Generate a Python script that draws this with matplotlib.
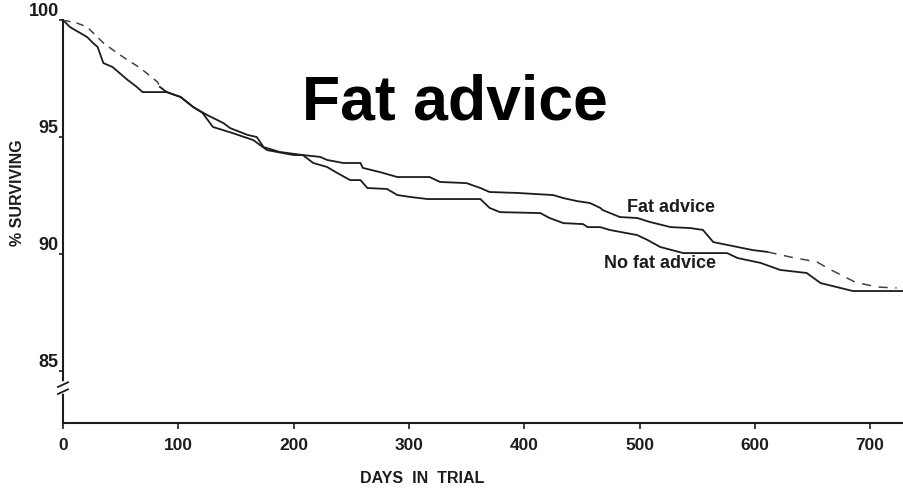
import numpy as np
import matplotlib
matplotlib.use("Agg")
import matplotlib.pyplot as plt

plt.rcParams['font.family'] = ['Liberation Sans', 'DejaVu Sans']

# survival curves (days, % surviving)
fat_days = [0, 8, 12, 21, 35, 47, 56, 67, 82, 84, 90, 102, 113, 125, 139, 145,
            160, 168, 174, 188, 208, 223, 229, 243, 258, 260, 275, 290, 318, 327,
            350, 362, 370, 394, 425, 434, 446, 457, 466, 468, 483, 498, 509, 527,
            544, 555, 564, 585, 598, 611, 631, 654, 663, 687, 706, 723]
fat_pct = [100.0, 99.91, 99.87, 99.70, 99.02, 98.59, 98.29, 97.95, 97.35, 97.14,
           96.92, 96.71, 96.28, 95.94, 95.60, 95.38, 95.09, 95.00, 94.57, 94.36,
           94.23, 94.15, 94.02, 93.89, 93.89, 93.68, 93.50, 93.29, 93.29, 93.08,
           93.03, 92.82, 92.65, 92.61, 92.52, 92.39, 92.26, 92.18, 91.97, 91.88,
           91.58, 91.54, 91.37, 91.15, 91.11, 91.03, 90.51, 90.30, 90.17, 90.09,
           89.87, 89.66, 89.40, 88.80, 88.59, 88.55]

nofat_days = [0, 6, 21, 26, 30, 35, 43, 56, 64, 69, 90, 102, 113, 121, 130, 147,
              165, 177, 200, 208, 217, 229, 238, 249, 258, 264, 281, 290, 301, 316,
              362, 370, 379, 414, 422, 434, 451, 455, 466, 474, 498, 507, 518, 538,
              559, 576, 585, 605, 622, 645, 657, 685, 729]
nofat_pct = [100.0, 99.70, 99.27, 99.02, 98.85, 98.16, 97.99, 97.44, 97.14, 96.92,
             96.92, 96.71, 96.28, 96.03, 95.43, 95.17, 94.87, 94.44, 94.23, 94.23,
             93.89, 93.72, 93.46, 93.16, 93.16, 92.82, 92.78, 92.52, 92.44, 92.35,
             92.35, 91.97, 91.79, 91.75, 91.54, 91.32, 91.28, 91.15, 91.15, 91.03,
             90.81, 90.60, 90.30, 90.04, 90.04, 90.04, 89.83, 89.62, 89.32, 89.19,
             88.76, 88.42, 88.42]

xticks = [0, 100, 200, 300, 400, 500, 600, 700]
yticks = [85, 90, 95, 100]

ink = '#1c1c1c'

fig = plt.figure(figsize=(9.04, 4.9), dpi=100)
ax = fig.add_axes([63/904, 67/490, 841/904, 403/490])

# no fat advice: solid all the way
ax.plot(nofat_days, nofat_pct, color=ink, lw=1.3)

# fat advice: faint/dashed at the start and end of the trace, solid in between
a, b = 9, 49
ax.plot(fat_days[:a+1], fat_pct[:a+1], color='#444444', lw=1.1, ls=(0, (5, 4)))
ax.plot(fat_days[a:b+1], fat_pct[a:b+1], color=ink, lw=1.3)
ax.plot(fat_days[b:], fat_pct[b:], color='#444444', lw=1.1, ls=(0, (6, 5)))

ax.set_xlim(0, 729.4)
ax.set_ylim(82.78, 100)
ax.set_xticks(xticks)
ax.set_yticks(yticks)
ax.tick_params(axis='both', direction='out', length=4, width=1.2, colors=ink)
ax.tick_params(axis='x', pad=7, labelsize=12.5)
ax.tick_params(axis='y', length=3, pad=0, labelsize=13)
for lab in ax.get_xticklabels() + ax.get_yticklabels():
    lab.set_fontweight('bold')
for lab in ax.get_yticklabels():
    lab.set_va('bottom')

for s in ['top', 'right']:
    ax.spines[s].set_visible(False)
for s in ['left', 'bottom']:
    ax.spines[s].set_linewidth(1.5)
    ax.spines[s].set_color(ink)

# axis break on the y axis
tr = ax.get_yaxis_transform()
ax.plot([0, 0], [84.15, 84.45], transform=tr, color='white', lw=4,
        clip_on=False, zorder=5)
for yb in [84.12, 84.42]:
    ax.plot([-0.006, 0.006], [yb - 0.1, yb + 0.1], transform=tr, color=ink,
            lw=1.3, clip_on=False, zorder=6)

ax.text(527, 92.0, 'Fat advice', fontsize=13, fontweight='bold', color=ink,
        ha='center', va='center')
ax.text(518, 89.6, 'No fat advice', fontsize=13, fontweight='bold', color=ink,
        ha='center', va='center')

fig.text(455/904, 1 - 103/490, 'Fat advice', fontsize=45, fontweight='bold',
         color='black', ha='center', va='center')
fig.text(422/904, 1 - 478/490, 'DAYS  IN  TRIAL', fontsize=11.5,
         fontweight='bold', color=ink, ha='center', va='center')
fig.text(18/904, 1 - 193/490, '% SURVIVING', fontsize=11.5, fontweight='bold',
         color=ink, ha='center', va='center', rotation=90)

fig.savefig('out.png', dpi=100)
